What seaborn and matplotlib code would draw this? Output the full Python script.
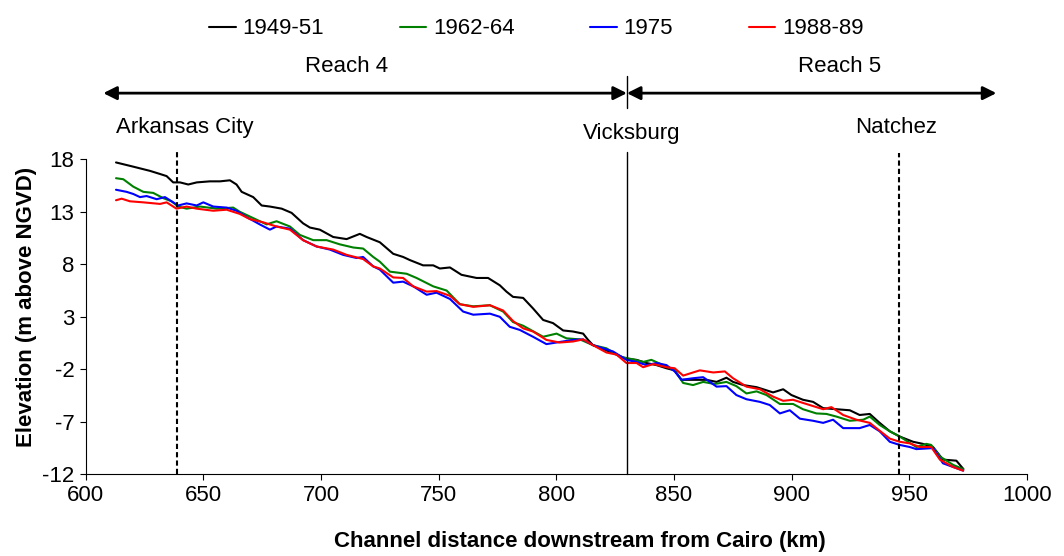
import matplotlib
matplotlib.use("Agg")
import matplotlib.pyplot as plt
import seaborn as sns
import pandas as pd

# channel profiles, Lower Mississippi
km_1949 = [612.9, 620.2, 627.3, 631.6, 634.4, 637.2, 640.1, 643.6, 647.2, 652.8, 657.1, 661.3,
           664.1, 666.3, 671.2, 674.8, 678.3, 683.3, 687.5, 692.4, 695.3, 699.5, 705.2, 710.9,
           716.5, 719.4, 725.0, 730.7, 734.9, 737.8, 743.4, 747.7, 750.5, 754.8, 759.7, 766.1,
           771.0, 776.0, 778.8, 781.6, 785.9, 790.1, 794.4, 798.6, 802.9, 807.1, 811.4, 813.5,
           815.6, 821.3, 825.6, 829.8, 834.1, 838.3, 842.6, 846.8, 850.3, 853.2, 858.1, 863.8,
           868.1, 872.3, 875.1, 879.4, 885.1, 892.1, 896.4, 899.9, 904.8, 909.1, 913.4, 919.0,
           924.7, 928.9, 933.2, 937.4, 941.7, 945.9, 951.6, 955.8, 960.1, 964.3, 970.0, 973.0]
elev_1949 = [17.7, 17.3, 16.9, 16.6, 16.4, 15.8, 15.8, 15.6, 15.8, 15.9, 15.9, 16.0,
             15.6, 14.9, 14.4, 13.6, 13.5, 13.3, 12.9, 11.9, 11.5, 11.3, 10.6, 10.4,
             10.9, 10.6, 10.1, 9.0, 8.7, 8.4, 7.9, 7.9, 7.6, 7.7, 7.0, 6.7,
             6.7, 6.0, 5.4, 4.9, 4.8, 3.8, 2.7, 2.4, 1.7, 1.6, 1.4, 0.8,
             0.3, -0.2, -0.6, -1.0, -1.1, -1.4, -1.6, -1.9, -2.1, -3.0, -3.0, -3.0,
             -3.2, -2.8, -3.2, -3.5, -3.7, -4.2, -3.9, -4.45, -4.9, -5.1, -5.7, -5.8,
             -5.9, -6.35, -6.25, -7.1, -7.9, -8.4, -8.9, -9.1, -9.4, -10.6, -10.7, -11.5]

km_1962 = [612.9, 616.0, 620.2, 624.5, 628.7, 633.0, 636.5, 639.3, 642.9, 648.6, 655.7, 662.7,
           665.5, 671.2, 676.9, 681.1, 686.8, 691.0, 696.7, 702.4, 708.0, 713.7, 717.9, 722.2,
           725.0, 729.3, 736.4, 740.6, 747.7, 753.4, 759.0, 764.7, 771.8, 777.4, 781.6, 785.9,
           794.4, 800.1, 804.3, 810.0, 815.6, 821.3, 827.0, 832.6, 836.9, 840.4, 845.4, 850.3,
           853.9, 858.1, 862.4, 867.3, 872.3, 876.5, 880.8, 885.1, 889.3, 895.0, 900.6, 904.8,
           910.5, 914.8, 919.0, 924.7, 930.4, 933.2, 937.4, 941.7, 945.9, 953.0, 957.2, 959.3,
           963.0, 968.6, 972.9]
elev_1962 = [16.2, 16.1, 15.4, 14.9, 14.8, 14.3, 14.0, 13.5, 13.3, 13.5, 13.3, 13.4,
             13.0, 12.4, 11.8, 12.1, 11.6, 10.8, 10.3, 10.3, 9.9, 9.6, 9.5, 8.7,
             8.25, 7.3, 7.1, 6.7, 5.9, 5.5, 4.2, 4.0, 4.1, 3.5, 2.5, 2.15,
             1.1, 1.4, 0.95, 0.85, 0.3, 0.0, -0.8, -1.05, -1.3, -1.1, -1.6, -2.1,
             -3.3, -3.5, -3.2, -3.4, -3.2, -3.6, -4.3, -4.1, -4.45, -5.3, -5.3, -5.8,
             -6.2, -6.25, -6.5, -6.9, -6.8, -6.5, -7.3, -7.9, -8.4, -9.4, -9.1, -9.2,
             -10.3, -11.1, -11.5]

km_1975 = [612.9, 617.4, 620.2, 623.1, 625.9, 630.2, 633.7, 636.5, 639.3, 642.9, 647.2, 650.0,
           654.2, 659.9, 664.1, 668.4, 674.0, 678.3, 681.1, 686.8, 692.4, 698.1, 703.8, 709.4,
           715.1, 717.9, 722.2, 725.0, 730.7, 734.9, 739.2, 744.9, 749.1, 754.8, 760.4, 764.7,
           771.8, 776.0, 780.2, 784.5, 790.1, 795.8, 801.4, 807.1, 811.4, 815.6, 819.9, 824.1,
           829.8, 834.1, 838.3, 842.6, 846.8, 850.3, 853.2, 858.1, 862.4, 868.1, 872.3, 876.5,
           880.8, 886.5, 890.7, 895.0, 899.2, 903.5, 909.1, 913.4, 917.6, 921.9, 928.9, 933.2,
           937.4, 941.7, 945.9, 950.2, 953.0, 960.1, 964.3, 968.6, 972.9]
elev_1975 = [15.1, 14.9, 14.7, 14.4, 14.5, 14.2, 14.4, 14.0, 13.6, 13.8, 13.6, 13.9,
             13.5, 13.4, 13.1, 12.5, 11.8, 11.3, 11.6, 11.4, 10.3, 9.7, 9.4, 8.9,
             8.6, 8.7, 7.8, 7.5, 6.25, 6.35, 5.9, 5.1, 5.3, 4.7, 3.5, 3.2,
             3.3, 3.0, 2.05, 1.75, 1.1, 0.4, 0.6, 0.8, 0.85, 0.3, 0.0, -0.3,
             -1.1, -1.3, -1.6, -1.4, -1.6, -2.2, -3.0, -2.85, -2.75, -3.65, -3.6, -4.45,
             -4.85, -5.1, -5.4, -6.2, -5.9, -6.7, -6.9, -7.1, -6.8, -7.6, -7.6, -7.3,
             -7.9, -8.9, -9.2, -9.4, -9.6, -9.5, -10.95, -11.3, -11.65]

km_1988 = [612.9, 615.3, 618.8, 624.5, 631.6, 634.4, 638.6, 642.9, 647.2, 654.2, 659.9, 665.5,
           669.8, 675.4, 681.1, 686.8, 692.4, 698.1, 705.2, 710.9, 717.9, 722.2, 725.0, 730.7,
           734.9, 739.2, 744.9, 749.1, 754.8, 759.0, 764.7, 771.8, 777.4, 781.6, 785.9, 790.1,
           795.8, 801.4, 807.1, 811.4, 815.6, 821.3, 825.6, 829.8, 834.1, 836.9, 841.2, 846.8,
           850.3, 853.9, 858.1, 861.0, 866.7, 871.6, 875.1, 880.8, 886.5, 892.1, 896.4, 900.6,
           904.8, 909.1, 913.4, 916.9, 921.9, 927.5, 933.2, 937.4, 941.7, 945.9, 950.2, 954.4,
           959.3, 963.0, 968.6, 972.9]
elev_1988 = [14.1, 14.25, 14.0, 13.9, 13.75, 13.9, 13.3, 13.5, 13.3, 13.1, 13.2, 12.8,
             12.3, 12.0, 11.6, 11.3, 10.3, 9.7, 9.4, 8.9, 8.5, 7.8, 7.6, 6.75,
             6.7, 5.9, 5.4, 5.45, 5.0, 4.2, 3.95, 4.1, 3.6, 2.6, 1.9, 1.6,
             0.8, 0.55, 0.65, 0.85, 0.3, -0.4, -0.6, -1.4, -1.4, -1.8, -1.5, -1.8,
             -1.9, -2.6, -2.3, -2.1, -2.3, -2.2, -2.85, -3.65, -3.9, -4.6, -5.0, -4.9,
             -5.2, -5.5, -5.8, -5.6, -6.35, -6.8, -7.1, -7.85, -8.6, -8.9, -9.05, -9.4,
             -9.4, -10.6, -11.3, -11.65]

series = ['1949-51', '1962-64', '1975', '1988-89']
colors = ['black', '#008000', '#0000ff', '#ff0000']

# landmarks and reaches
places = ['Arkansas City', 'Vicksburg', 'Natchez']
place_km = [639, 830, 945.5]
reach_names = ['Reach 4', 'Reach 5']
reach_start = [607.5, 830]
reach_end = [830, 987]

sns.set_style('ticks')
plt.rcParams['font.family'] = ['Liberation Sans', 'DejaVu Sans']
plt.rcParams['axes.unicode_minus'] = False
for key in ['text.color', 'axes.labelcolor', 'xtick.color', 'ytick.color']:
    plt.rcParams[key] = 'black'

fig = plt.figure(figsize=(10.64, 5.56), dpi=100)
ax = fig.add_axes([0.0805, 0.1469, 0.8847, 0.5666])

profiles = [(km_1949, elev_1949), (km_1962, elev_1962), (km_1975, elev_1975), (km_1988, elev_1988)]
for (k, e), name, c in zip(profiles, series, colors):
    df = pd.DataFrame({'km': k, 'elev': e})
    sns.lineplot(data=df, x='km', y='elev', color=c, lw=1.5, label=name, ax=ax)

ax.set_xlim(600, 1000)
ax.set_ylim(-12, 18)
ax.set_xticks(range(600, 1001, 50))
ax.set_yticks(range(-12, 19, 5))
ax.tick_params(labelsize=16, length=4, width=0.8, direction='out', pad=4)
sns.despine(ax=ax)
for s in ['left', 'bottom']:
    ax.spines[s].set_linewidth(0.8)
    ax.spines[s].set_color('black')

ax.set_xlabel('Channel distance downstream from Cairo (km)', fontsize=16, fontweight='bold')
ax.set_ylabel('Elevation (m above NGVD)', fontsize=16, fontweight='bold')
ax.xaxis.set_label_coords(0.525, -0.18)
ax.yaxis.set_label_coords(-0.052, 0.53)

# landmark lines
ax.plot([place_km[0]] * 2, [-12, 18.9], color='black', lw=1.5, ls=(0, (2.5, 1.5)), clip_on=False)
ax.plot([place_km[1]] * 2, [-12, 18.7], color='black', lw=1, clip_on=False)
ax.plot([place_km[2]] * 2, [-12, 18.6], color='black', lw=1.5, ls=(0, (2.5, 1.5)), clip_on=False)
ax.text(642.2, 21.0, places[0], fontsize=16, ha='center', va='center')
ax.text(832.1, 20.5, places[1], fontsize=16, ha='center', va='center')
ax.text(944.6, 21.0, places[2], fontsize=16, ha='center', va='center')

# reach arrows
for a, b, name in zip(reach_start, reach_end, reach_names):
    ax.annotate('', xy=(a, 24.3), xytext=(b, 24.3), annotation_clip=False,
                arrowprops=dict(arrowstyle='<|-|>', color='black', lw=2,
                                mutation_scale=20, shrinkA=0, shrinkB=0))
ax.plot([830, 830], [22.9, 25.9], color='black', lw=1, clip_on=False)
ax.text(711, 26.8, reach_names[0], fontsize=16, ha='center', va='center')
ax.text(920.4, 26.8, reach_names[1], fontsize=16, ha='center', va='center')

handles, labels = ax.get_legend_handles_labels()
ax.get_legend().remove()
fig.legend(handles, labels, loc='center', bbox_to_anchor=(0.504, 0.948), ncol=4,
           frameon=False, fontsize=16, handlelength=1.2, handletextpad=0.3,
           columnspacing=3.4)

fig.savefig('out.png', dpi=100)
